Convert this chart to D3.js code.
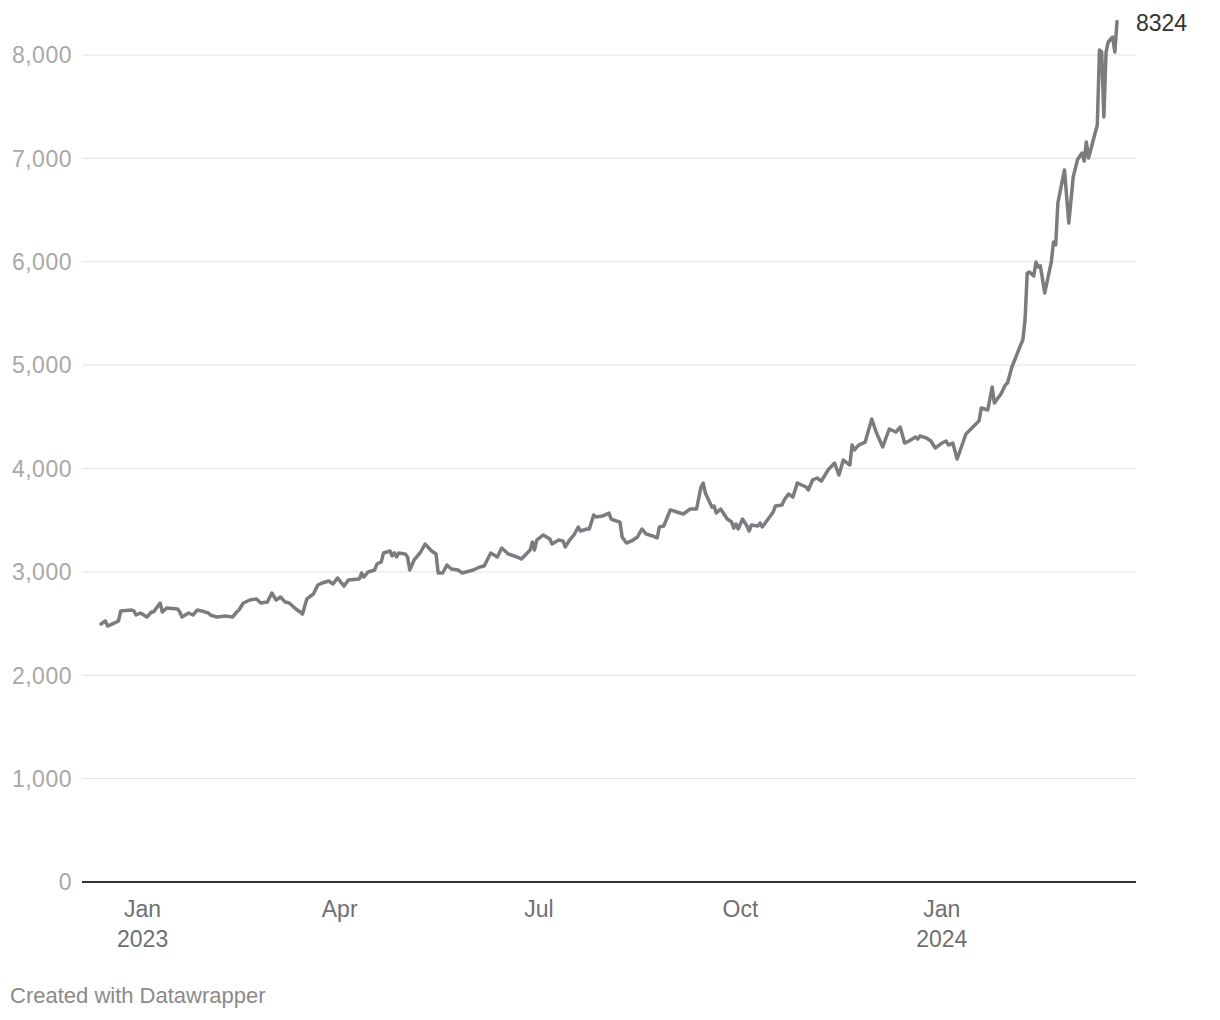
<!DOCTYPE html>
<html>
<head>
<meta charset="utf-8">
<script src="https://cdn.jsdelivr.net/npm/d3@7"></script>
<style>
  html, body { margin: 0; padding: 0; background: #fff; }
  svg { display: block; font-family: "Liberation Sans", Arial, Helvetica, sans-serif; }
</style>
</head>
<body>
<svg id="chart" width="1220" height="1020"></svg>
<script>
const dates = [
"2022-12-13","2022-12-15","2022-12-16","2022-12-19","2022-12-21","2022-12-22","2022-12-27","2022-12-28","2022-12-29","2022-12-31",
"2023-01-03","2023-01-05","2023-01-06","2023-01-09","2023-01-10","2023-01-12","2023-01-17","2023-01-18","2023-01-19","2023-01-22",
"2023-01-24","2023-01-26","2023-01-28","2023-01-31","2023-02-01","2023-02-04","2023-02-08","2023-02-11","2023-02-13","2023-02-14",
"2023-02-16","2023-02-19","2023-02-22","2023-02-24","2023-02-27","2023-03-01","2023-03-03","2023-03-05","2023-03-07","2023-03-09",
"2023-03-12","2023-03-14","2023-03-15","2023-03-17","2023-03-20","2023-03-22","2023-03-24","2023-03-27","2023-03-29","2023-03-31",
"2023-04-03","2023-04-05","2023-04-10","2023-04-11","2023-04-12","2023-04-14","2023-04-17","2023-04-18","2023-04-20","2023-04-21",
"2023-04-24","2023-04-25","2023-04-26","2023-04-27","2023-04-28","2023-05-01","2023-05-02","2023-05-03","2023-05-05","2023-05-08",
"2023-05-10","2023-05-13","2023-05-15","2023-05-16","2023-05-18","2023-05-20","2023-05-22","2023-05-25","2023-05-27","2023-06-01",
"2023-06-04","2023-06-06","2023-06-09","2023-06-12","2023-06-14","2023-06-17","2023-06-21","2023-06-23","2023-06-27","2023-06-28",
"2023-06-29","2023-06-30","2023-07-03","2023-07-06","2023-07-07","2023-07-10","2023-07-12","2023-07-13","2023-07-15","2023-07-17",
"2023-07-19","2023-07-20","2023-07-23","2023-07-24","2023-07-26","2023-07-27","2023-07-30","2023-08-02","2023-08-03","2023-08-04",
"2023-08-07","2023-08-08","2023-08-10","2023-08-13","2023-08-15","2023-08-17","2023-08-19","2023-08-22","2023-08-24","2023-08-25",
"2023-08-27","2023-08-30","2023-09-02","2023-09-05","2023-09-08","2023-09-11","2023-09-13","2023-09-14","2023-09-15","2023-09-18",
"2023-09-19","2023-09-20","2023-09-22","2023-09-25","2023-09-27","2023-09-28","2023-09-29","2023-09-30","2023-10-02","2023-10-04",
"2023-10-05","2023-10-06","2023-10-09","2023-10-10","2023-10-11","2023-10-13","2023-10-16","2023-10-17","2023-10-20","2023-10-21",
"2023-10-23","2023-10-25","2023-10-27","2023-10-31","2023-11-01","2023-11-03","2023-11-05","2023-11-07","2023-11-10","2023-11-13",
"2023-11-15","2023-11-17","2023-11-20","2023-11-21","2023-11-22","2023-11-24","2023-11-27","2023-11-30","2023-12-02","2023-12-05",
"2023-12-08","2023-12-11","2023-12-13","2023-12-15","2023-12-17","2023-12-20","2023-12-21","2023-12-22","2023-12-25","2023-12-27",
"2023-12-29","2024-01-01","2024-01-03","2024-01-04","2024-01-06","2024-01-08","2024-01-12","2024-01-17","2024-01-18","2024-01-19",
"2024-01-22","2024-01-24","2024-01-25","2024-01-26","2024-01-28","2024-01-30","2024-01-31","2024-02-02","2024-02-06","2024-02-07",
"2024-02-08","2024-02-09","2024-02-10","2024-02-12","2024-02-13","2024-02-14","2024-02-15","2024-02-17","2024-02-20","2024-02-21",
"2024-02-22","2024-02-23","2024-02-26","2024-02-28","2024-03-01","2024-03-03","2024-03-05","2024-03-06","2024-03-07","2024-03-08",
"2024-03-12","2024-03-13","2024-03-14","2024-03-15","2024-03-16","2024-03-17","2024-03-19","2024-03-20","2024-03-21"
];
const values = [
2496,2525,2476,2505,2525,2622,2631,2622,2583,2602,
2563,2612,2612,2699,2612,2650,2641,2612,2563,2602,
2583,2631,2622,2602,2583,2563,2573,2563,2612,2631,
2699,2728,2738,2699,2709,2796,2728,2757,2709,2699,
2641,2612,2592,2738,2786,2873,2892,2912,2883,2941,
2863,2921,2931,2989,2950,2999,3018,3076,3096,3183,
3202,3154,3183,3144,3183,3173,3144,3018,3115,3192,
3270,3202,3173,2989,2989,3066,3028,3018,2989,3018,
3047,3057,3183,3144,3231,3173,3144,3125,3212,3289,
3212,3308,3357,3318,3270,3308,3299,3241,3308,3357,
3434,3395,3415,3415,3550,3531,3540,3569,3511,3502,
3482,3337,3279,3308,3337,3415,3366,3347,3328,3434,
3444,3599,3579,3560,3608,3608,3821,3860,3763,3627,
3637,3569,3608,3511,3482,3424,3463,3415,3511,3444,
3395,3453,3444,3473,3434,3492,3579,3637,3647,3695,
3753,3724,3860,3821,3792,3889,3908,3879,3985,4053,
3937,4082,4034,4227,4179,4227,4256,4479,4353,4208,
4382,4353,4401,4246,4266,4305,4285,4314,4295,4266,
4198,4246,4266,4227,4246,4092,4334,4440,4459,4585,
4566,4788,4633,4662,4720,4807,4827,4982,5195,5243,
5436,5891,5901,5862,5998,5949,5960,5698,5998,6191,
6162,6568,6888,6375,6820,6990,7052,6975,7158,7004,
7323,8049,8029,7400,8029,8126,8174,8029,8324
];
const yTicks = [0,1000,2000,3000,4000,5000,6000,7000,8000];
const xTicks = [
  {date:"2023-01-01", line1:"Jan", line2:"2023"},
  {date:"2023-04-01", line1:"Apr", line2:""},
  {date:"2023-07-01", line1:"Jul", line2:""},
  {date:"2023-10-01", line1:"Oct", line2:""},
  {date:"2024-01-01", line1:"Jan", line2:"2024"}
];
const lastLabel = "8324";
const credit = "Created with Datawrapper";

const parse = d3.timeParse("%Y-%m-%d");
const data = dates.map((d,i) => ({date: parse(d), value: values[i]}));

const svg = d3.select("#chart");
const plotLeft = 82, plotRight = 1136;
const x = d3.scaleTime().domain(d3.extent(data, d => d.date)).range([101, 1117]);
const y = d3.scaleLinear().domain([0, 8000]).range([882, 55]);

// grid
const grid = svg.append("g");
grid.selectAll("line").data(yTicks.filter(t => t > 0)).join("line")
  .attr("x1", plotLeft).attr("x2", plotRight)
  .attr("y1", d => y(d)).attr("y2", d => y(d))
  .attr("stroke", "#e2e2e2").attr("stroke-width", 1);

// y labels
const fmt = d3.format(",");
svg.append("g").selectAll("text").data(yTicks).join("text")
  .attr("x", 72).attr("y", d => y(d)).attr("dy", "0.36em")
  .attr("text-anchor", "end")
  .attr("fill", "#a8a8a8").attr("font-size", 23)
  .attr("letter-spacing", 0.5)
  .text(d => fmt(d));

// baseline
svg.append("line")
  .attr("x1", plotLeft).attr("x2", plotRight)
  .attr("y1", y(0)).attr("y2", y(0))
  .attr("stroke", "#333").attr("stroke-width", 2);

// x labels
const xg = svg.append("g").selectAll("g").data(xTicks).join("g")
  .attr("transform", d => `translate(${x(parse(d.date))},0)`);
xg.append("text").attr("y", 917).attr("text-anchor", "middle")
  .attr("fill", "#707070").attr("font-size", 23).text(d => d.line1);
xg.append("text").attr("y", 947).attr("text-anchor", "middle")
  .attr("fill", "#707070").attr("font-size", 23).text(d => d.line2);

// line
const line = d3.line().x(d => x(d.date)).y(d => y(d.value));
svg.append("path").datum(data)
  .attr("d", line)
  .attr("fill", "none")
  .attr("stroke", "#7c7c80")
  .attr("stroke-width", 3.5)
  .attr("stroke-linejoin", "round")
  .attr("stroke-linecap", "round");

// last value label
const last = data[data.length - 1];
svg.append("text")
  .attr("x", 1136).attr("y", y(last.value) + 9)
  .attr("fill", "#333").attr("font-size", 23)
  .text(lastLabel);

// credit
svg.append("text").attr("x", 10).attr("y", 1003)
  .attr("fill", "#8a8a8a").attr("font-size", 22).text(credit);
</script>
</body>
</html>
